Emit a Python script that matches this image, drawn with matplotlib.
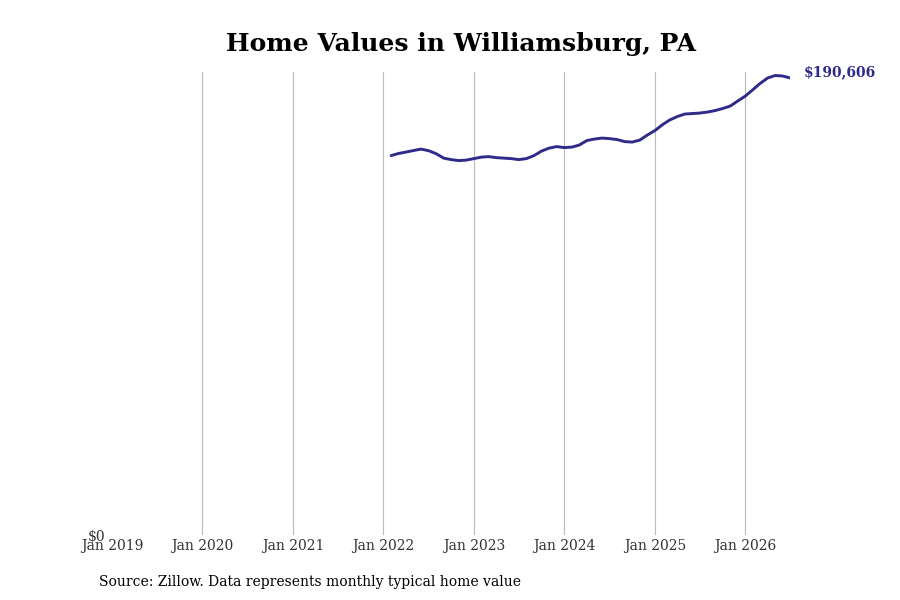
import matplotlib
matplotlib.use("Agg")
import matplotlib.pyplot as plt
import matplotlib.dates as mdates
import pandas as pd

title = "Home Values in Williamsburg, PA"
source = "Source: Zillow. Data represents monthly typical home value"
start_month = "2022-02-01"
values = [
    158233, 159068, 159694, 160320, 160946, 160320, 159068, 157189, 156563, 156145, 156354,
    156980, 157606, 157815, 157398, 157189, 156980, 156563, 156980, 158233, 160111, 161364, 161990,
    161573, 161781, 162616, 164495, 165121, 165539, 165330, 164913, 164078, 163869, 164704, 166791,
    168670, 171175, 173054, 174515, 175559, 175768, 175976, 176394, 177020, 177855, 178899, 180986,
    183074, 185788, 188293, 190589, 191633, 191424, 190606,
]
tick_years = list(range(2019, 2027))
end_label = "$190,606"

dates = pd.date_range(start_month, periods=len(values), freq="MS")
color = "#2e2b8b"

plt.rcParams['font.family'] = ['DejaVu Serif']
fig = plt.figure(figsize=(9, 6), dpi=100)
ax = fig.add_axes([0.1244, 0.1083, 0.878 - 0.1244, 0.88 - 0.1083])

ax.plot(dates, values, color=color, lw=2.1, solid_capstyle='round')
ax.set_xlim(pd.Timestamp("2019-01-01"), dates[-1])
ax.set_ylim(0, 193100)
ax.set_xticks([pd.Timestamp(f"{y}-01-01") for y in tick_years])
ax.set_xticklabels([f"Jan {y}" for y in tick_years], fontsize=10, color="#333333")
ax.set_yticks([0])
ax.set_yticklabels(["$0"], fontsize=10, color="#333333")
ax.tick_params(axis='both', length=0, pad=3)
ax.tick_params(axis='y', pad=5)
ax.grid(axis='x', color="#bbbbbb", lw=0.8)
ax.xaxis.get_gridlines()[0].set_visible(False)
ax.set_axisbelow(True)
for s in ax.spines.values():
    s.set_visible(False)

ax.annotate(end_label, xy=(dates[-1], values[-1]), xytext=(10, 4), textcoords='offset points',
            fontsize=10, fontweight='bold', color=color, va='center', ha='left', annotation_clip=False)

fig.text(0.512, 0.927, title, ha='center', va='center', fontsize=18, fontweight='bold')
fig.text(0.11, 0.03, source, ha='left', va='center', fontsize=10)

fig.savefig("out.png", dpi=100)
